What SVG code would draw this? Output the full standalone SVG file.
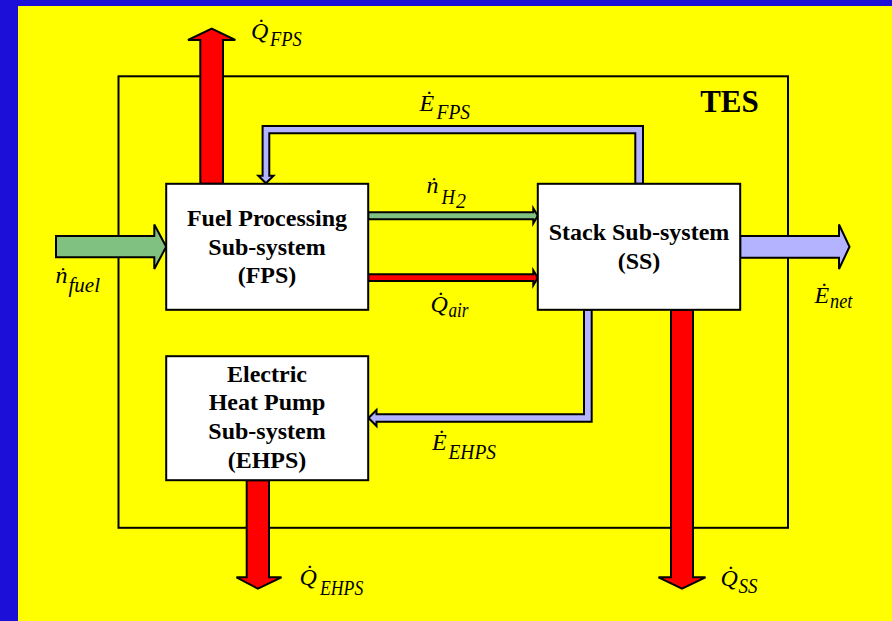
<svg xmlns="http://www.w3.org/2000/svg" width="892" height="621" viewBox="0 0 892 621">
<style>
.box{fill:#ffffff;stroke:#000;stroke-width:2}
.bt{font-family:"Liberation Serif","Times New Roman",serif;font-weight:bold;font-size:24px;fill:#000;text-anchor:middle}
.m{font-family:"Liberation Serif","Times New Roman",serif;font-style:italic;font-size:24px;fill:#000}
.s{font-size:20px}
.red{fill:#ff0000;stroke:#000;stroke-width:2;stroke-linejoin:miter}
.grn{fill:#80c080;stroke:#000;stroke-width:2}
.lav{fill:#b3b3ff;stroke:#000;stroke-width:2}
</style>
<rect x="0" y="0" width="892" height="621" fill="#ffff00"/>
<rect x="0" y="0" width="892" height="6" fill="#1c10d8"/>
<rect x="0" y="0" width="18" height="621" fill="#1c10d8"/>

<g id="tes">
<rect x="118.5" y="76.3" width="669.5" height="451.5" fill="none" stroke="#000" stroke-width="2"/>
<text x="729.5" y="111.5" font-family="Liberation Serif, serif" font-weight="bold" font-size="31" text-anchor="middle">TES</text>
</g>

<g id="connectors">
<polygon class="red" points="200.3,183.8 200.3,40 188,40 211.7,28.5 235.3,40 223,40 223,183.8"/>
<polygon class="red" points="671,309.8 671,577.3 658.5,577.3 682,588.7 705.5,577.3 693,577.3 693,309.8"/>
<polygon class="red" points="246.7,480.2 246.7,577.3 236.5,577.3 257.9,588.7 281.5,577.3 269,577.3 269,480.2"/>
<polygon class="grn" points="56,236 154.3,236 154.3,224.5 166.2,246.7 154.3,269 154.3,257.3 56,257.3"/>
<polygon class="lav" points="740.2,236 839,236 839,224.5 849.5,246.8 839,269 839,257.7 740.2,257.7"/>
<polygon class="grn" points="368.2,212.3 533.3,212.3 533.3,208.3 537.8,215.8 533.3,223.3 533.3,219.3 368.2,219.3"/>
<polygon class="red" points="368.2,274.3 533.3,274.3 533.3,270.3 537.8,277.7 533.3,285.3 533.3,281 368.2,281"/>
<polygon class="lav" points="635.3,183.8 635.3,133.3 269.3,133.3 269.3,175.8 273.5,175.8 265.9,183.3 258.3,175.8 262.6,175.8 262.6,126 643,126 643,183.8"/>
<polygon class="lav" points="584,309.8 584,414.3 376.5,414.3 376.5,410 368.5,418 376.5,426 376.5,421.7 591.7,421.7 591.7,309.8"/>
</g>

<g id="fps">
<rect class="box" x="166.2" y="183.8" width="202" height="126"/>
<text class="bt" x="267" y="226">Fuel Processing</text>
<text class="bt" x="267" y="254.5">Sub-system</text>
<text class="bt" x="267" y="283">(FPS)</text>
</g>
<g id="ss">
<rect class="box" x="537.8" y="183.8" width="202.4" height="126"/>
<text class="bt" x="639" y="240">Stack Sub-system</text>
<text class="bt" x="639" y="268.5">(SS)</text>
</g>
<g id="ehps">
<rect class="box" x="166.2" y="356.2" width="202" height="124"/>
<text class="bt" x="267" y="381.7">Electric</text>
<text class="bt" x="267" y="410">Heat Pump</text>
<text class="bt" x="267" y="439.3">Sub-system</text>
<text class="bt" x="267" y="467.7">(EHPS)</text>
</g>

<g id="labels">
<g id="lbl-qfps"><text class="m" x="251" y="39">Q&#x307;</text><text class="m s" x="270" y="45.5" textLength="31.7" lengthAdjust="spacingAndGlyphs">FPS</text></g>
<g id="lbl-efps"><text class="m" x="419.5" y="110.5">E&#x307;</text><text class="m s" x="436.5" y="119.3" textLength="33.5" lengthAdjust="spacingAndGlyphs">FPS</text></g>
<g id="lbl-nh2"><text class="m" x="426.5" y="193.3">n&#x307;</text><text class="m s" x="441.5" y="204" textLength="13.5" lengthAdjust="spacingAndGlyphs">H</text><text class="m s" x="456" y="207.7">2</text></g>
<g id="lbl-qair"><text class="m" x="430.5" y="312">Q&#x307;</text><text class="m s" x="448.5" y="316.7" textLength="20" lengthAdjust="spacingAndGlyphs">air</text></g>
<g id="lbl-eehps"><text class="m" x="432" y="450">E&#x307;</text><text class="m s" x="448.5" y="459" textLength="47.5" lengthAdjust="spacingAndGlyphs">EHPS</text></g>
<g id="lbl-nfuel"><text class="m" x="55.5" y="283.3">n&#x307;</text><text class="m s" x="68.5" y="291.7" textLength="31.5" lengthAdjust="spacingAndGlyphs">fuel</text></g>
<g id="lbl-enet"><text class="m" x="814.5" y="303.3">E&#x307;</text><text class="m s" x="830" y="308.3" textLength="22.3" lengthAdjust="spacingAndGlyphs">net</text></g>
<g id="lbl-qehps"><text class="m" x="299.5" y="585">Q&#x307;</text><text class="m s" x="320" y="595" textLength="43.3" lengthAdjust="spacingAndGlyphs">EHPS</text></g>
<g id="lbl-qss"><text class="m" x="720.5" y="586">Q&#x307;</text><text class="m s" x="738.5" y="593.3" textLength="19" lengthAdjust="spacingAndGlyphs">SS</text></g>
</g>
</svg>
